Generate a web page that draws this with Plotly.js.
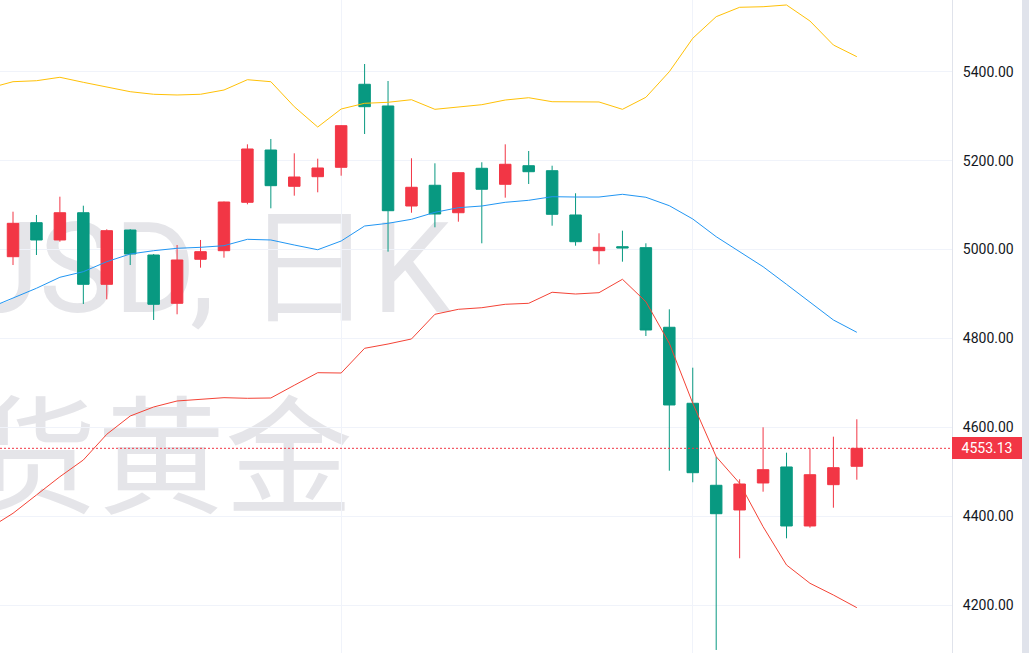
<!DOCTYPE html>
<html>
<head>
<meta charset="utf-8">
<script src="https://cdn.plot.ly/plotly-3.0.1.min.js"></script>
<style>
html,body{margin:0;padding:0;background:#ffffff;}
#chart{width:1029px;height:653px;}
</style>
</head>
<body>
<div id="chart"></div>
<script>
// ---- data (daily candles) ----
const candleIndex = Array.from({length: 37}, (_, i) => i);
const openPrices = [4984.0, 5060.5, 5021.6, 5082.9, 4921.9, 5044.0, 4987.8, 4879.2, 4978.2, 4997.5,
  5106.3, 5223.9, 5142.3, 5163.9, 5185.0, 5371.7, 5322.9, 5098.0, 5144.6, 5082.9,
  5182.8, 5146.8, 5188.6, 5177.4, 5077.8, 4997.5, 5006.5, 5004.3, 4825.3, 4654.4,
  4470.0, 4414.5, 4475.2, 4511.2, 4378.5, 4471.4, 4512.7];
const highPrices = [5085.2, 5077.8, 5118.9, 5098.7, 5045.6, 5046.0, 4990.1, 5010.3, 5021.6, 5108.0,
  5236.7, 5248.7, 5216.5, 5204.4, 5279.5, 5417.3, 5379.1, 5205.3, 5194.0, 5174.0,
  5196.3, 5236.7, 5221.7, 5188.6, 5126.6, 5036.6, 5042.5, 5014.1, 4865.7, 4734.4,
  4534.3, 4483.5, 4600.4, 4543.3, 4553.2, 4579.3, 4618.4];
const lowPrices = [4965.3, 4987.8, 5017.7, 4877.7, 4888.2, 4965.3, 4841.7, 4854.5, 4959.3, 4981.8,
  5101.8, 5092.8, 5121.2, 5128.8, 5166.1, 5259.9, 4995.3, 5082.9, 5050.1, 5062.7,
  5014.1, 5116.7, 5147.5, 5053.7, 5008.7, 4966.9, 4972.8, 4805.7, 4502.8, 4476.8,
  4099.7, 4305.9, 4455.6, 4350.8, 4374.7, 4419.6, 4482.6];
const closePrices = [5059.1, 5021.6, 5082.9, 4921.9, 5042.5, 4990.1, 4877.0, 4976.6, 4995.3, 5107.0,
  5226.2, 5143.7, 5163.2, 5183.5, 5278.6, 5321.3, 5087.4, 5140.1, 5080.0, 5172.9,
  5135.6, 5191.8, 5175.1, 5079.3, 5017.7, 5005.1, 5003.6, 4819.2, 4650.6, 4498.3,
  4406.1, 4472.9, 4505.1, 4378.5, 4493.8, 4509.6, 4553.13];

// Bollinger bands (first point belongs to the day before the first visible candle)
const bandIndex = Array.from({length: 38}, (_, i) => i - 1);
const upperBand = [5363.3, 5377.5, 5379.7, 5387.4, 5376.1, 5364.9, 5355.0, 5349.2, 5347.6, 5349.2,
  5358.8, 5382.0, 5377.5, 5321.3, 5275.6, 5316.1, 5328.9, 5331.2, 5337.0, 5315.4,
  5321.3, 5325.8, 5336.3, 5341.5, 5332.5, 5332.5, 5331.9, 5315.4, 5342.4, 5400.0,
  5475.1, 5523.7, 5544.8, 5546.1, 5550.0, 5514.0, 5460.0, 5433.7];
const middleBand = [4869.1, 4891.8, 4913.0, 4937.7, 4950.3, 4972.8, 4990.1, 4997.5, 5002.9, 5005.1,
  5008.7, 5023.1, 5021.6, 5010.3, 4999.7, 5019.3, 5053.0, 5059.1, 5068.1, 5083.8,
  5094.2, 5098.0, 5106.3, 5110.8, 5118.9, 5118.2, 5118.2, 5124.3, 5117.6, 5098.7,
  5068.8, 5029.0, 4995.3, 4961.5, 4921.9, 4882.8, 4841.7, 4814.0];
const lowerBand = [4374.0, 4407.0, 4448.2, 4489.3, 4526.9, 4584.7, 4625.8, 4646.1, 4659.6, 4664.0,
  4667.0, 4665.6, 4666.3, 4694.9, 4723.2, 4722.5, 4778.0, 4787.7, 4799.0, 4854.5,
  4865.7, 4869.3, 4877.0, 4879.2, 4904.0, 4900.1, 4903.1, 4933.2, 4882.8, 4789.3,
  4654.4, 4534.3, 4474.5, 4376.9, 4290.8, 4249.7, 4223.3, 4194.8];

const priceTicks = [4200, 4400, 4600, 4800, 5000, 5200, 5400];
const monthBreaks = [14, 29];
const watermarkLine1 = 'XAUUSD, 日K';
const watermarkLine2 = '现货黄金';

// ---- styles ----
const UP = '#F23645', DOWN = '#089981';
const lastClose = closePrices[closePrices.length - 1];

const traces = [
  {
    type: 'candlestick',
    x: candleIndex, open: openPrices, high: highPrices, low: lowPrices, close: closePrices,
    increasing: {line: {color: UP, width: 1}, fillcolor: UP},
    decreasing: {line: {color: DOWN, width: 1}, fillcolor: DOWN},
    whiskerwidth: 0,
    showlegend: false, hoverinfo: 'skip'
  },
  {type: 'scatter', mode: 'lines', x: bandIndex, y: upperBand,
   line: {color: '#FFC107', width: 1}, showlegend: false, hoverinfo: 'skip'},
  {type: 'scatter', mode: 'lines', x: bandIndex, y: middleBand,
   line: {color: '#2196F3', width: 1}, showlegend: false, hoverinfo: 'skip'},
  {type: 'scatter', mode: 'lines', x: bandIndex, y: lowerBand,
   line: {color: '#F44336', width: 1}, showlegend: false, hoverinfo: 'skip'}
];

const W = 1029, H = 653, plotW = 952;
const wmColor = '#e5e5e9';

const layout = {
  width: W, height: H,
  margin: {l: 0, r: W - plotW, t: 0, b: 0, pad: 0},
  paper_bgcolor: '#ffffff', plot_bgcolor: '#ffffff',
  showlegend: false, hovermode: false, dragmode: false,
  boxgap: 0.3,
  xaxis: {
    range: [-0.555, 40.06],
    tickvals: monthBreaks, showticklabels: false, ticks: '',
    showgrid: true, gridcolor: '#f0f3fa', gridwidth: 1,
    zeroline: false, showline: false,
    rangeslider: {visible: false}, fixedrange: true
  },
  yaxis: {
    side: 'right',
    range: [4092.9, 5561.2],
    tickvals: priceTicks, tickformat: '.2f',
    ticks: '', ticklabelstandoff: 7,
    tickfont: {family: 'Roboto, sans-serif', size: 14, color: '#131722'},
    showgrid: true, gridcolor: '#f0f3fa', gridwidth: 1,
    zeroline: false, showline: true, linecolor: '#e0e3eb', linewidth: 1,
    fixedrange: true
  },
  shapes: [
    {type: 'rect', xref: 'paper', yref: 'paper', layer: 'below',
     x0: 0, x1: 457 / plotW, y0: 1 - 300 / H, y1: 1 - 220 / H,
     line: {width: 0}, fillcolor: 'rgba(0,0,0,0)',
     label: {text: watermarkLine1, textposition: 'middle right',
             font: {family: 'Roboto, "Noto Sans CJK SC", sans-serif', size: 126, color: wmColor}}},
    {type: 'rect', xref: 'paper', yref: 'paper', layer: 'below',
     x0: 0, x1: 359 / plotW, y0: 1 - 508 / H, y1: 1 - 428 / H,
     line: {width: 0}, fillcolor: 'rgba(0,0,0,0)',
     label: {text: watermarkLine2, textposition: 'middle right',
             font: {family: '"Noto Sans CJK SC", sans-serif', size: 128, color: wmColor}}},
    {type: 'line', xref: 'paper', yref: 'y', x0: 0, x1: 1, y0: lastClose, y1: lastClose,
     line: {color: UP, width: 1, dash: '2px,2px'}},
    {type: 'rect', xref: 'paper', yref: 'paper', layer: 'above',
     x0: 1022 / plotW, x1: 1040 / plotW, y0: 0, y1: 1,
     line: {width: 0}, fillcolor: '#e0e3eb'}
  ],
  annotations: [
    {xref: 'paper', yref: 'y', x: 1, y: lastClose, xanchor: 'left', yanchor: 'middle',
     text: lastClose.toFixed(2), showarrow: false,
     width: 70, height: 22, borderpad: 0, borderwidth: 0, align: 'center',
     bgcolor: UP, font: {family: 'Roboto, sans-serif', size: 14, color: '#ffffff'}}
  ]
};

Plotly.newPlot('chart', traces, layout, {displayModeBar: false, staticPlot: true});
</script>
</body>
</html>
